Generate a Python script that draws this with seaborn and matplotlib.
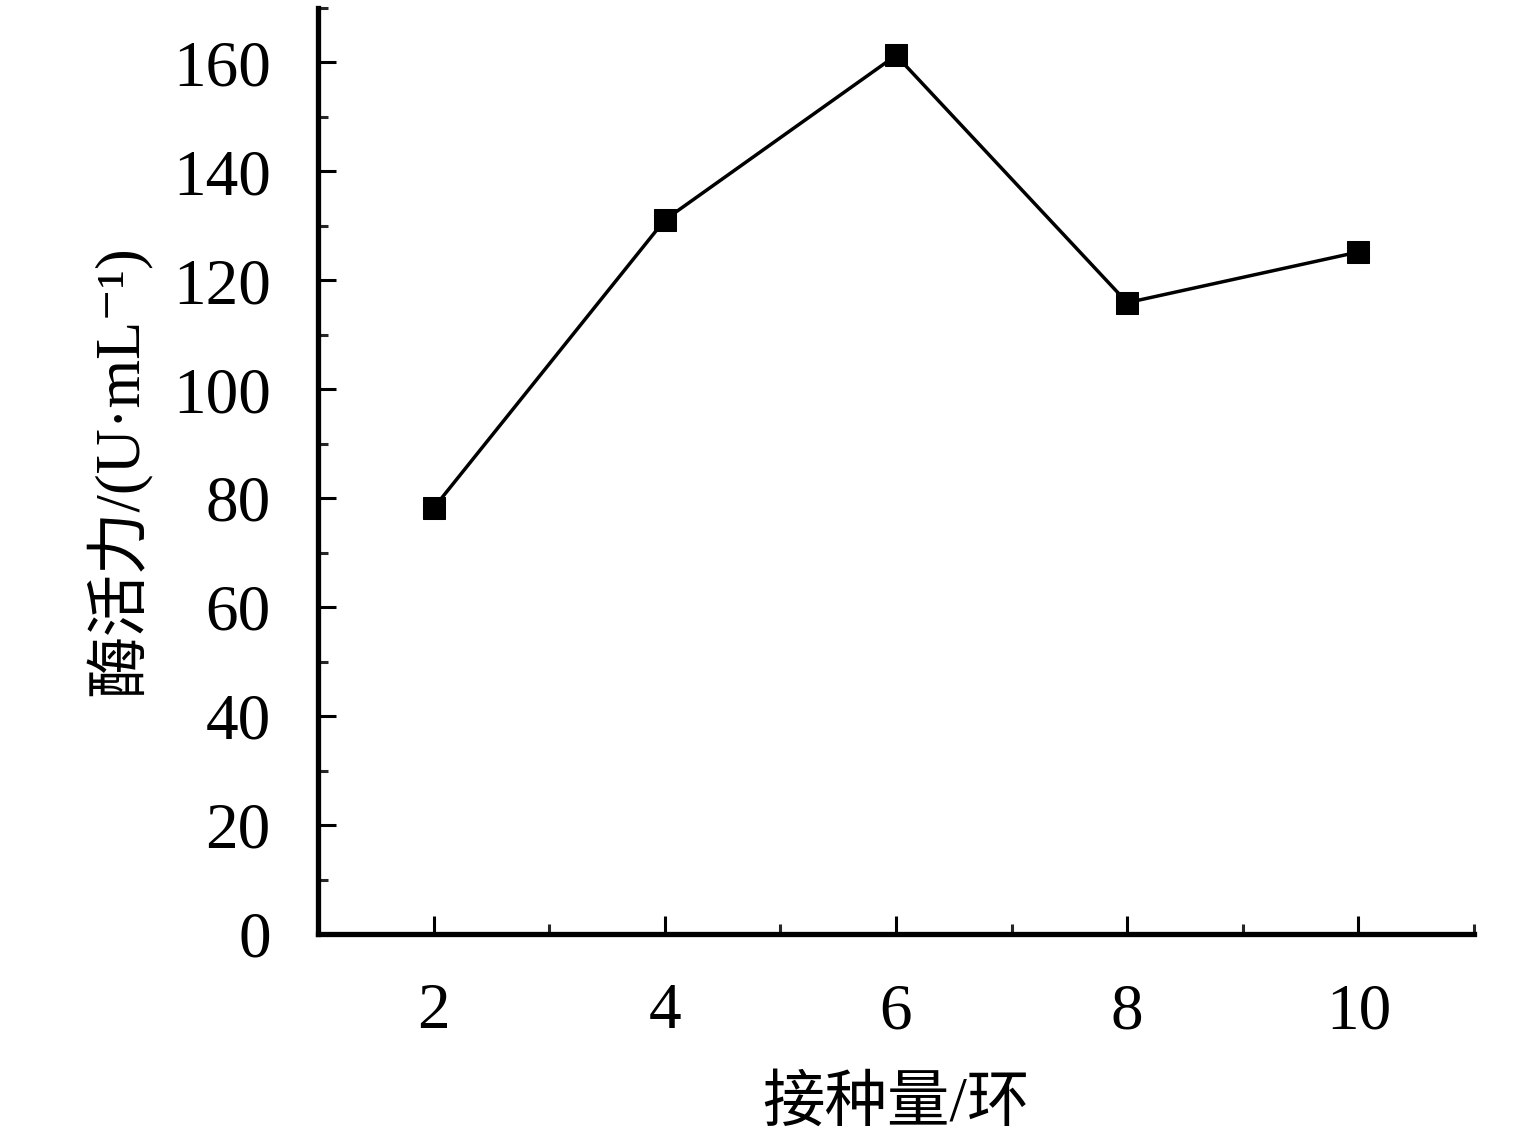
import matplotlib
matplotlib.use("Agg")
import matplotlib.pyplot as plt
import seaborn as sns
import pandas as pd
from matplotlib.ticker import MultipleLocator

inoculum = [2, 4, 6, 8, 10]
activity = [78.2, 131.1, 161.3, 115.9, 125.2]
x_label = "接种量/环"
y_label = "酶活力/(U·mL⁻¹)"

sns.set_theme(style="ticks")
plt.rcParams['font.family'] = ['Liberation Serif', 'Noto Sans CJK SC', 'DejaVu Serif']

df = pd.DataFrame({"x": inoculum, "y": activity})

fig = plt.figure(figsize=(15.35, 11.39), dpi=100)
ax = fig.add_axes([0.2072, 0.18, 0.7531, 0.813])
sns.lineplot(data=df, x="x", y="y", ax=ax, color="black", linewidth=2.5,
             marker="s", markersize=16, markeredgecolor="black", markerfacecolor="black")

ax.set_xlim(1, 11)
ax.set_ylim(0, 170)
ax.xaxis.set_major_locator(MultipleLocator(2))
ax.xaxis.set_minor_locator(MultipleLocator(1))
ax.yaxis.set_major_locator(MultipleLocator(20))
ax.yaxis.set_minor_locator(MultipleLocator(10))
ax.set_xticks(inoculum)
ax.tick_params(which="major", direction="in", length=13, width=2.2, labelsize=47, colors="black")
ax.tick_params(axis="x", which="major", pad=35)
ax.tick_params(axis="y", which="major", pad=34)
ax.tick_params(which="minor", direction="in", length=7, width=2.2)
for s in ["top", "right"]:
    ax.spines[s].set_visible(False)
for s in ["left", "bottom"]:
    ax.spines[s].set_linewidth(3.8)
    ax.spines[s].set_color("black")

ax.set_xlabel(x_label, fontsize=45, labelpad=25, color="black")
ax.set_ylabel(y_label, fontsize=45, labelpad=15, color="black")

fig.savefig("out.png", dpi=100)
